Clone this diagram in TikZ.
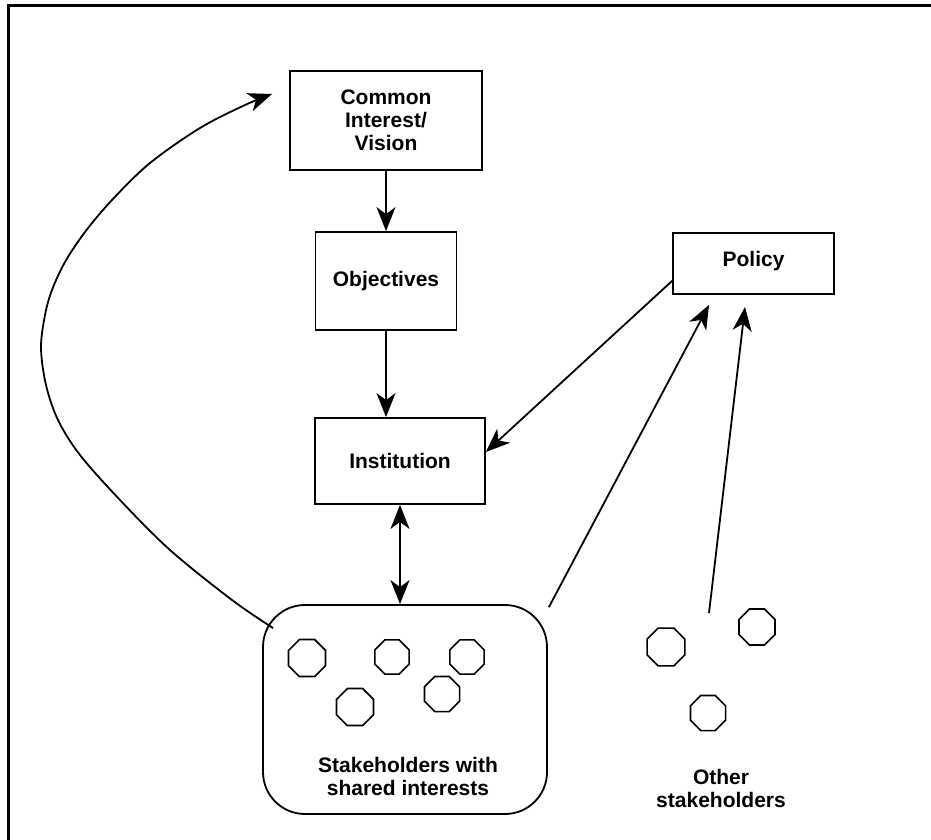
\documentclass[tikz,border=0pt]{standalone}
\usepackage{fontspec}
\setmainfont{Liberation Sans}
\usetikzlibrary{arrows.meta,shapes.geometric}

\begin{document}
\begin{tikzpicture}[x=1pt,y=-1pt,line width=1.8pt,
  boxtext/.style={font=\bfseries\fontsize{21}{23}\selectfont,align=center},
  box/.style={draw,boxtext,inner sep=0pt},
  member/.style={draw,regular polygon,regular polygon sides=8,minimum size=39pt,inner sep=0pt,line width=1.6pt},
  head/.tip={Stealth[length=24pt,width=19pt,inset=7pt]},
  tip/.style={-head},
  bothtips/.style={head-head}
]
\useasboundingbox (0,0) rectangle (931,840);

% outer frame
\draw[line width=3pt] (8,845) |- (936,6);

% main boxes
\node[box,minimum width=192pt,minimum height=99pt] (vision) at (386,120.5) {Common\\Interest/\\Vision};
\node[box,minimum width=141pt,minimum height=98pt] (objectives) at (386,281) {Objectives};
\node[box,minimum width=170pt,minimum height=86pt] (institution) at (400,461) {Institution};
\node[box,minimum width=161pt,minimum height=61pt,text depth=9pt] (policy) at (753.5,263.5) {Policy};

% group of stakeholders with shared interests
\node[draw,rounded corners=42pt,minimum width=284pt,minimum height=209pt] (shb) at (405,709.5) {};
\node[member,minimum size=40pt] (s1) at (307,658) {};
\node[member,minimum size=37pt] (s2) at (392,657) {};
\node[member,minimum size=37pt] (s3) at (467,657) {};
\node[member,minimum size=40pt] (s4) at (355,707) {};
\node[member,minimum size=38pt] (s5) at (442,694) {};
\node[boxtext] (shbtext) at (408,776) {Stakeholders with\\shared interests};

% other stakeholders
\node[member,minimum size=41pt] (o1) at (666,647) {};
\node[member,minimum size=39pt] (o2) at (757,627) {};
\node[member,minimum size=38pt] (o3) at (708,713) {};
\node[boxtext] (othertext) at (721,788) {Other\\stakeholders};

% connector end points
\coordinate (curvestart) at (273,628);
\coordinate (otherstart) at (709,613);

% connectors
\draw[tip] (vision.south) -- (objectives.north);
\draw[tip] (objectives.south) -- (objectives.south |- institution.north);
\draw[bothtips] (institution.south) -- (institution.south |- shb.north);
\draw[tip] ([yshift=14pt]policy.south west) -- ([yshift=9pt]institution.east);
\draw[tip] ([xshift=1pt,yshift=-3pt]shb.north east) -- ([xshift=-44.5pt,yshift=-10pt]policy.south);
\draw[tip] (otherstart) -- ([xshift=-8.5pt,yshift=-12pt]policy.south);
\draw[tip] plot[smooth,tension=0.55] coordinates {
  (curvestart) (232,600) (170,550) (120,500) (80,455) (58,420) (46,385) (41,348)
  (45,315) (52,290) (65,262) (85,232) (112,200) (150,163) (200,128) (245,105)
  ([xshift=-17pt,yshift=26.5pt]vision.west)};
\end{tikzpicture}
\end{document}
